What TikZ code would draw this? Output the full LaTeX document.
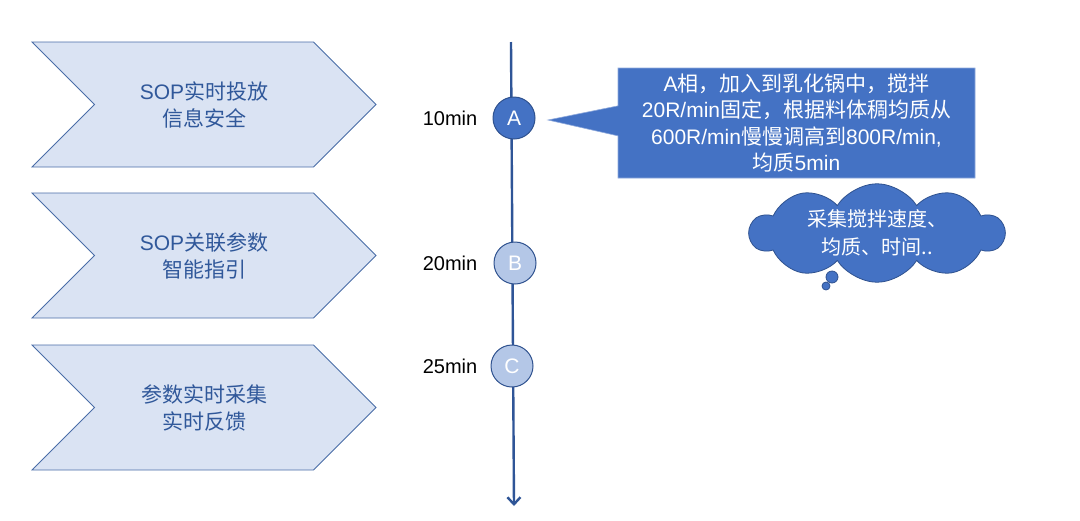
\documentclass[tikz,border=0pt]{standalone}
\usepackage{fontspec}
\setmainfont{Liberation Sans}
\newfontfamily\cjk{Noto Sans CJK SC}
\newcommand\zh[1]{{\cjk #1}}
\usetikzlibrary{positioning,shapes.symbols,shapes.callouts,arrows.meta}
\definecolor{chevfill}{HTML}{DAE3F3}
\definecolor{chevline}{HTML}{4A6DA7}
\definecolor{chevtext}{HTML}{30589A}
\definecolor{axis}{HTML}{2F5597}
\definecolor{ring}{HTML}{2F528F}
\definecolor{darkfill}{HTML}{4472C4}
\definecolor{lightfill}{HTML}{B4C7E7}
\begin{document}
\begin{tikzpicture}[x=1pt, y=-1pt, node distance=15pt,
    chev/.style = {signal, signal from=west, signal to=east, signal pointer angle=90,
      draw=chevline, fill=chevfill, line width=0.8pt, minimum width=344pt, minimum height=125pt,
      inner sep=0pt, text=chevtext, align=center, font=\fontsize{21}{27}\selectfont},
    stage/.style = {circle, draw=ring, line width=1pt, minimum size=42pt, inner sep=0pt,
      text=white, font=\fontsize{21}{21}\selectfont},
    time/.style = {inner sep=0pt, font=\fontsize{20}{20}\selectfont},
    bubble/.style = {circle, draw=ring, fill=darkfill, line width=0.8pt, inner sep=0pt}]
    \useasboundingbox (0,0) rectangle (1080,520);

    % Le tre fasi a sinistra
    \node[chev] (sop) at (204,104.5) {SOP\zh{实时投放}\\\zh{信息安全}};
    \node[chev] (par) at (204,255.5) {SOP\zh{关联参数}\\\zh{智能指引}};
    \node[chev] (acq) at (204,407.5) {\zh{参数实时采集}\\\zh{实时反馈}};

    % Asse del tempo
    \coordinate (top) at (511,42);
    \coordinate (bot) at (514,506);
    \draw[axis, line width=2.4pt, -{Straight Barb[length=7pt,width=13pt]}] (top) -- (bot);

    \node[stage, fill=darkfill] (A) at (514,118) {A};
    \node[stage, fill=lightfill] (B) at (515,263) {B};
    \node[stage, fill=lightfill] (C) at (512,366) {C};
    \node[time, left=15pt of A] (tA) {10min};
    \node[time, left=16pt of B] (tB) {20min};
    \node[time, left=13pt of C] (tC) {25min};

    % Descrizione della fase A
    \coordinate (tip) at (548,120);
    \node[rectangle callout, callout absolute pointer={(tip)}, callout pointer width=30pt,
      draw=darkfill!60!white, line width=0.6pt, fill=darkfill, minimum width=357pt,
      minimum height=110pt, inner sep=0pt, text=white, align=center,
      font=\fontsize{21}{26.5}\selectfont] (note) at (796.5,123)
      {A\zh{相，加入到乳化锅中，搅拌}\\20R/min\zh{固定，根据料体稠均质从}\\600R/min\zh{慢慢调高到}800R/min,\\\zh{均质}5min};

    % Nuvola con i dati raccolti
    \node[cloud, cloud puffs=10, cloud puff arc=115, aspect=2.9, draw=ring, fill=darkfill,
      line width=0.8pt, minimum width=254pt, minimum height=90pt, inner sep=0pt,
      text=white, align=center, font=\cjk\fontsize{20}{28}\selectfont] (data) at (877,233)
      {采集搅拌速度、\\均质、时间..};
    \node[bubble, minimum size=12pt] (b1) at (832,277) {};
    \node[bubble, minimum size=8pt] (b2) at (826,286) {};

\end{tikzpicture}
\end{document}
